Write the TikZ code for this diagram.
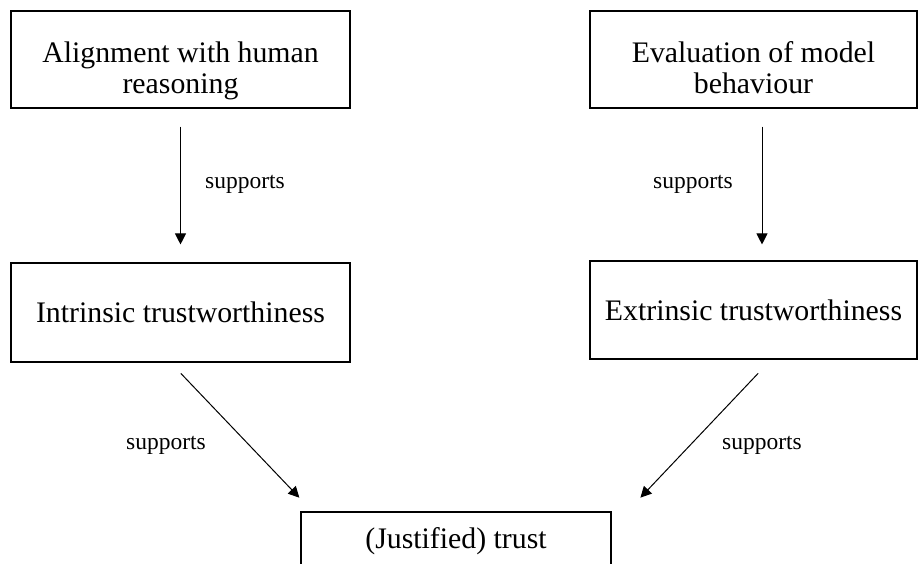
\documentclass[tikz,border=0pt]{standalone}
\usepackage{fontspec}
\setmainfont{Liberation Serif}
\usetikzlibrary{arrows.meta}
\begin{document}
\begin{tikzpicture}[x=1pt,y=-1pt,
  box/.style={draw, line width=1.1pt, rectangle, inner sep=0pt, align=center,
    font=\fontsize{29.8}{31}\selectfont},
  txt/.style={inner sep=0pt, align=center, font=\fontsize{29.8}{31}\selectfont},
  arr/.style={line width=1pt, -{Triangle[length=11pt,width=11pt]}},
  lbl/.style={anchor=base, font=\fontsize{23.5}{27}\selectfont}]
\useasboundingbox (0,0) rectangle (918,564);
\node[box, minimum width=339pt, minimum height=97pt] (A) at (180.5,59.5) {};
\node[txt] (At) at ([yshift=-11pt]A.center) {Alignment with human\\reasoning};
\node[box, minimum width=327pt, minimum height=97pt] (B) at (753.5,59.5) {};
\node[txt] (Bt) at ([yshift=-8.5pt]B.center) {Evaluation of model\\behaviour};
\node[box, minimum width=339pt, minimum height=99pt] (C) at (180.5,312.5) {Intrinsic trustworthiness};
\node[box, minimum width=327pt, minimum height=98pt] (D) at (753.5,310) {Extrinsic trustworthiness};
\node[box, minimum width=310pt, minimum height=58pt] (E) at (456,541) {(Justified) trust};
\draw[arr, shorten <=18pt, shorten >=18pt] (A.south) -- (C.north);
\draw[arr, shorten <=18pt, shorten >=16pt] ([xshift=8.5pt]B.south) -- ([xshift=8.5pt]D.north);
\draw[arr, shorten <=15pt, shorten >=19pt] ([xshift=-10pt]C.south) -- ([xshift=12pt]E.north west);
\draw[arr, shorten <=19pt, shorten >=19pt] ([xshift=17.7pt]D.south) -- ([xshift=15.8pt]E.north east);
\node[lbl] (l1) at (245,189) {supports};
\node[lbl] (l2) at (693,189) {supports};
\node[lbl] (l3) at (166,449) {supports};
\node[lbl] (l4) at (762,449) {supports};
\end{tikzpicture}
\end{document}
